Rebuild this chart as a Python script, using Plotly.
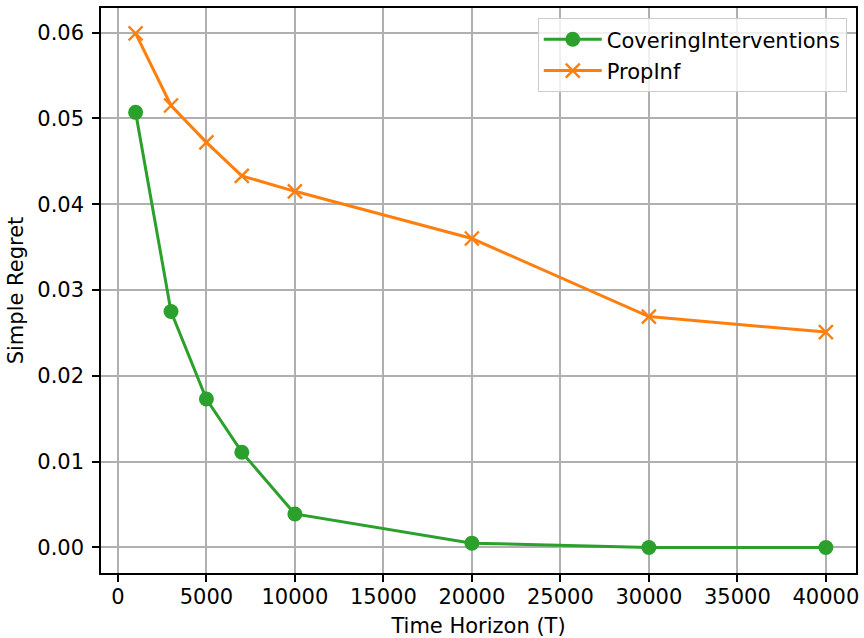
import plotly.graph_objects as go

horizons = [1000, 3000, 5000, 7000, 10000, 20000, 30000, 40000]
covering = [0.0507, 0.0275, 0.0173, 0.0111, 0.0039, 0.0005, 0.0, 0.0]
propinf = [0.0599, 0.0515, 0.0472, 0.0433, 0.0415, 0.0360, 0.0269, 0.0251]

x_ticks = [0, 5000, 10000, 15000, 20000, 25000, 30000, 35000, 40000]
y_ticks = [0, 0.01, 0.02, 0.03, 0.04, 0.05, 0.06]

FS = 21

fig = go.Figure()
fig.add_trace(go.Scatter(x=horizons, y=covering, name="CoveringInterventions",
                         legendgroup="a", mode="lines+markers",
                         line=dict(color="#2ca02c", width=3),
                         marker=dict(symbol="circle", size=15, color="#2ca02c")))
fig.add_trace(go.Scatter(x=horizons, y=propinf, name="PropInf",
                         legendgroup="b", mode="lines+markers",
                         line=dict(color="#ff7f0e", width=3),
                         marker=dict(symbol="x-thin", size=14,
                                     line=dict(color="#ff7f0e", width=2.4),
                                     color="#ff7f0e")))

axis_common = dict(showline=True, linecolor="black", linewidth=1.5, mirror=True,
                   ticks="outside", ticklen=7, tickwidth=1.5, tickcolor="black",
                   showgrid=True, gridcolor="#b0b0b0", gridwidth=1.5,
                   zeroline=False, tickfont=dict(size=FS, color="black"))

fig.update_layout(
    width=864, height=638,
    margin=dict(l=101, r=4.5, t=8, b=62, pad=0),
    paper_bgcolor="white", plot_bgcolor="white",
    font=dict(family="DejaVu Sans", color="black", size=FS),
    showlegend=True,
    legend=dict(x=0.5785, y=0.982, xanchor="left", yanchor="top",
                bgcolor="rgba(255,255,255,0.8)", bordercolor="#cccccc", borderwidth=1,
                font=dict(size=FS), itemwidth=58, tracegroupgap=1),
    xaxis=dict(range=[-956, 41703], tickmode="array",
               tickvals=x_ticks, ticktext=[str(v) for v in x_ticks],
               title=dict(text="Time Horizon (T)", font=dict(size=FS), standoff=10),
               ticklabelstandoff=-3,
               **axis_common),
    yaxis=dict(range=[-0.002979, 0.062863], tickmode="array",
               tickvals=y_ticks, ticktext=[f"{v:.2f}" for v in y_ticks],
               title=dict(text="Simple Regret", font=dict(size=FS), standoff=8),
               ticklabelstandoff=4,
               **axis_common),
)

fig.write_html("out.html",
               config={"displayModeBar": False},
               post_script="document.body.style.margin='0';"
                           "document.body.style.overflow='hidden';")
